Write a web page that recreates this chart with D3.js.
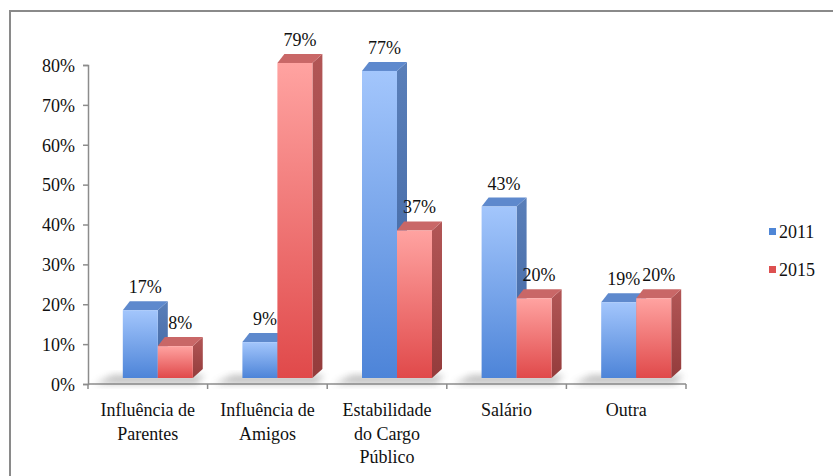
<!DOCTYPE html>
<html><head><meta charset="utf-8">
<script src="https://cdn.jsdelivr.net/npm/d3@7"></script>
<style>body{margin:0;background:#fff}svg{display:block}svg text{font-family:"Liberation Serif",Tinos,"Times New Roman",Times,"DejaVu Serif",serif !important;fill:#111}</style>
</head><body>
<script>
const categories = ["Influência de Parentes","Influência de Amigos","Estabilidade do Cargo Público","Salário","Outra"];
const categoryLines = [["Influência de","Parentes"],["Influência de","Amigos"],["Estabilidade","do Cargo","Público"],["Salário"],["Outra"]];
const seriesNames = ["2011","2015"];
const values2011 = [17, 9, 77, 43, 19];
const values2015 = [8, 79, 37, 20, 20];
const yTicks = [0,10,20,30,40,50,60,70,80];

const W = 833, H = 476;
const FONT = "'Liberation Serif', Tinos, 'Times New Roman', Times, 'DejaVu Serif', serif";
const svg = d3.select("body").append("svg").attr("width", W).attr("height", H).attr("font-family", FONT);
const defs = svg.append("defs");
function grad(id, c1, c2, vertical=true){
  const g = defs.append("linearGradient").attr("id", id)
    .attr("x1",0).attr("y1",0).attr("x2",vertical?0:1).attr("y2",vertical?1:0);
  g.append("stop").attr("offset","0%").attr("stop-color",c1);
  g.append("stop").attr("offset","100%").attr("stop-color",c2);
}
grad("gBlueFront","#a3c6fc","#4d84d8");
grad("gRedFront","#ffa3a1","#e0494a");
grad("gBlueSide","#5a7fb9","#3f64a0");
grad("gRedSide","#b25656","#943c3c");
defs.append("filter").attr("id","blur").attr("x","-50%").attr("y","-50%").attr("width","200%").attr("height","200%")
  .append("feGaussianBlur").attr("stdDeviation",3.5);

// frame
svg.append("rect").attr("x",10).attr("y",11).attr("width",840).attr("height",480)
  .attr("fill","none").attr("stroke","#8a8a8a").attr("stroke-width",2);

const x = d3.scaleBand().domain(categories).range([88,686]);
const y = d3.scaleLinear().domain([0,80]).range([384,65]);
const barW = 35, dx = 10, dy = 9, lift = 6, shift = 10;
const series = [
  {name:"2011", values: values2011, front:"url(#gBlueFront)", side:"url(#gBlueSide)", top:"#5e89cd", legend:"#4f86d6"},
  {name:"2015", values: values2015, front:"url(#gRedFront)", side:"url(#gRedSide)", top:"#c96767", legend:"#dd5050"}
];

// axes
const gy = svg.append("g").attr("transform","translate(88,0)").call(d3.axisLeft(y).tickValues(yTicks).tickSize(5).tickFormat(d=>d+"%"));
gy.attr("font-family", FONT);
gy.select(".domain").attr("stroke","#8c8c8c").attr("stroke-width",1.5);
gy.selectAll(".tick line").attr("stroke","#8c8c8c").attr("stroke-width",1.5);
gy.selectAll(".tick text").attr("x",-13).attr("font-size",18).attr("fill","#111").attr("dy","0.35em");

const gx = svg.append("g").attr("transform","translate(0,384)");
gx.append("line").attr("x1",88).attr("x2",686).attr("y1",0).attr("y2",0).attr("stroke","#8c8c8c").attr("stroke-width",1.5);
const bounds = categories.map(c=>x(c)).concat([x.range()[1]]);
gx.selectAll(".tk").data(bounds).join("line").attr("x1",d=>d).attr("x2",d=>d).attr("y1",0).attr("y2",5)
  .attr("stroke","#8c8c8c").attr("stroke-width",1.5);
categories.forEach((c,i)=>{
  const t = gx.append("text").attr("text-anchor","middle").attr("font-size",18)
    .attr("x", x(c)+x.bandwidth()/2).attr("y",32);
  categoryLines[i].forEach((ln,j)=>t.append("tspan").attr("x",x(c)+x.bandwidth()/2).attr("dy", j===0?0:23.5).text(ln));
});

// bars
const gb = svg.append("g");
categories.forEach((c,i)=>{
  const left = x(c) + x.bandwidth()/2 - barW + shift;
  const base = y(0) - lift;
  gb.append("polygon").attr("points",[
      [left-28, base+6],[left+2*barW+4, base+6],[left+2*barW+dx+2, base-3],[left-10, base-3]
    ].map(p=>p.join(",")).join(" "))
    .attr("fill","#777").attr("opacity",0.45).attr("filter","url(#blur)");
  series.forEach((s,k)=>{
    const x0 = left + k*barW, x1 = x0 + barW;
    const yt = y(s.values[i]) - lift;
    gb.append("polygon").attr("points",[[x1,yt],[x1+dx,yt-dy],[x1+dx,base-dy],[x1,base]].map(p=>p.join(",")).join(" "))
      .attr("fill", s.side);
    gb.append("polygon").attr("points",[[x0,yt],[x0+dx*0.7,yt-dy],[x1+dx,yt-dy],[x1,yt]].map(p=>p.join(",")).join(" "))
      .attr("fill", s.top);
    gb.append("rect").attr("x",x0).attr("y",yt).attr("width",barW).attr("height",base-yt).attr("fill", s.front);
  });
  series.forEach((s,k)=>{
    const x0 = left + k*barW;
    const yt = y(s.values[i]) - lift;
    gb.append("text").attr("text-anchor","middle").attr("font-size",18)
      .attr("x", x0 + barW/2 + 5).attr("y", yt - dy - 8).text(s.values[i]+"%");
  });
});

// legend
const lg = svg.append("g");
series.forEach((s,k)=>{
  const yy = 233 + k*38;
  lg.append("rect").attr("x",769).attr("y",yy-5).attr("width",7).attr("height",7).attr("fill",s.legend);
  lg.append("text").attr("x",779).attr("y",yy+5).attr("font-size",18).text(s.name);
});
</script>
</body></html>
